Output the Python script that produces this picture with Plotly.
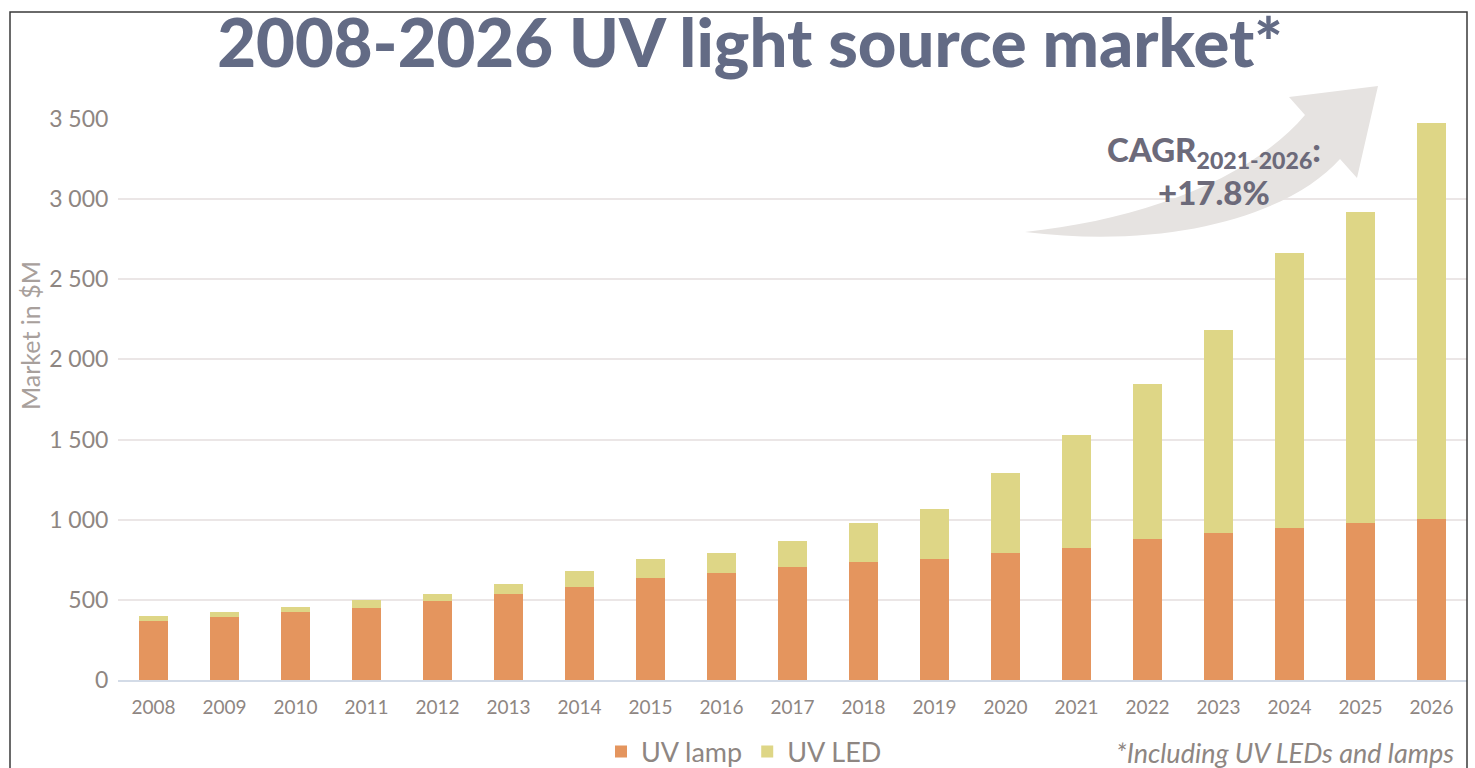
import plotly.graph_objects as go

years = ["2008", "2009", "2010", "2011", "2012", "2013", "2014", "2015", "2016", "2017",
         "2018", "2019", "2020", "2021", "2022", "2023", "2024", "2025", "2026"]
uv_lamp = [370, 395, 426, 451, 495, 538, 580, 636, 666, 707, 738, 753, 794, 823, 880, 919, 950, 978, 1006]
uv_led = [27, 29, 27, 46, 43, 59, 100, 117, 128, 158, 241, 312, 497, 707, 965, 1264, 1716, 1944, 2469]
y_tickvals = [0, 500, 1000, 1500, 2000, 2500, 3000, 3500]
y_ticktext = ["0", "500", "1 000", "1 500", "2 000", "2 500", "3 000", "3 500"]

W, H = 1475, 768
L, R, T, B = 118, 1467, 119, 680  # plot area in pixels

def px(x):
    return (x - L) / (R - L)

def py(y):
    return (B - y) / (B - T)

def pt(x, y):
    return f"{px(x):.5f},{py(y):.5f}"

FONT = "Lato"
GREY = "#8e8682"

fig = go.Figure()
fig.add_trace(go.Bar(x=years, y=uv_lamp, name="UV lamp",
                     marker=dict(color="#E4955E", line=dict(width=0))))
fig.add_trace(go.Bar(x=years, y=uv_led, name="UV LED",
                     marker=dict(color="#DED686", line=dict(width=0))))

arrow_path = (
    f"M {pt(1025,232)} "
    f"C {pt(1140,220)} {pt(1250,180)} {pt(1305,115)} "
    f"L {pt(1289,97)} L {pt(1378,86)} L {pt(1357,178)} L {pt(1340,159)} "
    f"C {pt(1290,215)} {pt(1170,250)} {pt(1025,232)} Z"
)

shapes = [
    dict(type="path", xref="paper", yref="paper", path=arrow_path,
         fillcolor="#e6e3e1", line=dict(width=0), layer="above"),
    dict(type="rect", xref="paper", yref="paper",
         x0=px(10), x1=px(1467), y0=py(790), y1=py(12),
         line=dict(color="#3a3a3a", width=1.5), fillcolor="rgba(0,0,0,0)", layer="above"),
]

annotations = [
    dict(text="Market in $M", xref="paper", yref="paper", x=px(30), y=py(336),
         textangle=-90, showarrow=False, font=dict(family=FONT, size=25, color="#a8a09c"),
         xanchor="center", yanchor="middle"),
    dict(text="CAGR<sub>2021-2026</sub>:<br>+17.8%", xref="paper", yref="paper",
         x=px(1214), y=py(171), showarrow=False, xanchor="center", yanchor="middle",
         align="center",
         font=dict(family=FONT, size=33, color="#6c6a7a", weight=900)),
    dict(text="<i>*Including UV LEDs and lamps</i>", xref="paper", yref="paper",
         x=px(1456), y=py(752), showarrow=False, xanchor="right", yanchor="middle",
         font=dict(family=FONT, size=27, color=GREY)),
]

fig.update_layout(
    width=W, height=H,
    margin=dict(l=L, r=W - R, t=T, b=H - B, autoexpand=False),
    paper_bgcolor="white", plot_bgcolor="white",
    barmode="stack", bargap=0.6,
    title=dict(text="2008-2026 UV light source market*", x=750 / W, xanchor="center",
               y=1 - 44 / H, yanchor="middle",
               font=dict(family=FONT, size=67, color="#636b85", weight=900)),
    legend=dict(orientation="h", x=px(744), y=py(752), xanchor="center", yanchor="middle",
                font=dict(family=FONT, size=27, color=GREY), traceorder="normal",
                itemwidth=30, bgcolor="rgba(0,0,0,0)"),
    xaxis=dict(showgrid=False, showline=True, linecolor="#d3dbe7", linewidth=2,
               ticks="outside", ticklen=9, tickcolor="rgba(0,0,0,0)",
               tickfont=dict(family=FONT, size=19, color=GREY), zeroline=False),
    yaxis=dict(range=[0, 3500], tickvals=y_tickvals, ticktext=y_ticktext,
               showgrid=True, gridcolor="#ebe6e6", gridwidth=1.5, zeroline=False,
               showline=False, ticks="outside", ticklen=4, tickcolor="rgba(0,0,0,0)",
               tickfont=dict(family=FONT, size=23, color=GREY)),
    shapes=shapes, annotations=annotations,
)

fig.write_html("out.html", config={"displayModeBar": False},
               post_script="document.body.style.margin='0';document.body.style.overflow='hidden';")
